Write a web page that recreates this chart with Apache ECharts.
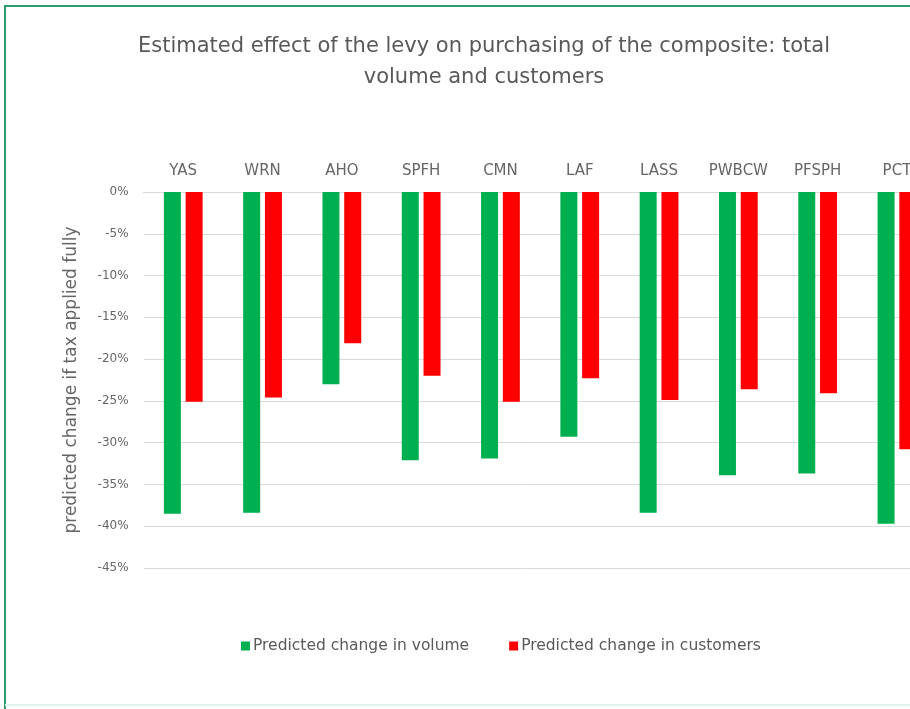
<!DOCTYPE html>
<html>
<head>
<meta charset="utf-8">
<script src="https://cdn.jsdelivr.net/npm/echarts@6/dist/echarts.min.js"></script>
<style>
html,body{margin:0;padding:0;background:#fff;}
#chart{width:910px;height:709px;}
</style>
</head>
<body>
<div id="chart"></div>
<script>
const categories = ['YAS','WRN','AHO','SPFH','CMN','LAF','LASS','PWBCW','PFSPH','PCT'];
const volumeChange = [-38.5,-38.4,-23.0,-32.1,-31.9,-29.3,-38.4,-33.9,-33.7,-39.7];
const customerChange = [-25.1,-24.6,-18.1,-22.0,-25.1,-22.3,-24.9,-23.6,-24.1,-30.8];
const seriesNames = ['Predicted change in volume','Predicted change in customers'];
const titleText = 'Estimated effect of the levy on purchasing of the composite: total\nvolume and customers';
const yAxisName = 'predicted change if tax applied fully';

const font = '"DejaVu Sans", sans-serif';
const chart = echarts.init(document.getElementById('chart'));
chart.setOption({
  backgroundColor:'#ffffff',
  animation:false,
  title:{
    text:titleText,
    left:479, top:26, textAlign:'center',
    textStyle:{fontFamily:font,fontSize:21,fontWeight:'normal',color:'#595959',lineHeight:31}
  },
  legend:{
    data:seriesNames,
    left:236, top:633,
    itemWidth:9, itemHeight:9, itemGap:40,
    icon:'rect',
    textStyle:{fontFamily:font,fontSize:15.5,color:'#595959',padding:[0,0,0,-2]}
  },
  grid:{left:143.6, top:192, width:793, height:376, outerBoundsMode:'none', containLabel:false},
  xAxis:{
    type:'category', position:'top', data:categories,
    axisLine:{show:true,lineStyle:{color:'#d9d9d9'}},
    axisTick:{show:false},
    axisLabel:{fontFamily:font,fontSize:15,color:'#666666',margin:13,interval:0}
  },
  yAxis:{
    type:'value', min:-45, max:0, interval:5,
    name:yAxisName, nameLocation:'middle', nameGap:64, nameRotate:90,
    nameTextStyle:{fontFamily:font,fontSize:17,color:'#666666'},
    axisLine:{show:false}, axisTick:{show:false},
    axisLabel:{fontFamily:font,fontSize:12,color:'#666666',margin:15,formatter:v=>v+'%'},
    splitLine:{lineStyle:{color:'#d9d9d9',width:1}}
  },
  series:[
    {name:seriesNames[0],type:'bar',data:volumeChange,barWidth:17,barGap:'28%',itemStyle:{color:'#00b050'}},
    {name:seriesNames[1],type:'bar',data:customerChange,barWidth:17,barGap:'28%',itemStyle:{color:'#ff0000'}}
  ],
  graphic:[
    {type:'polyline',shape:{points:[[5,709],[5,6],[910,6]]},style:{fill:'none',stroke:'#2f9a6b',lineWidth:2},silent:true},
    {type:'line',shape:{x1:5,y1:705,x2:910,y2:705},style:{stroke:'#dff4ef',lineWidth:2},silent:true}
  ]
});
</script>
</body>
</html>
